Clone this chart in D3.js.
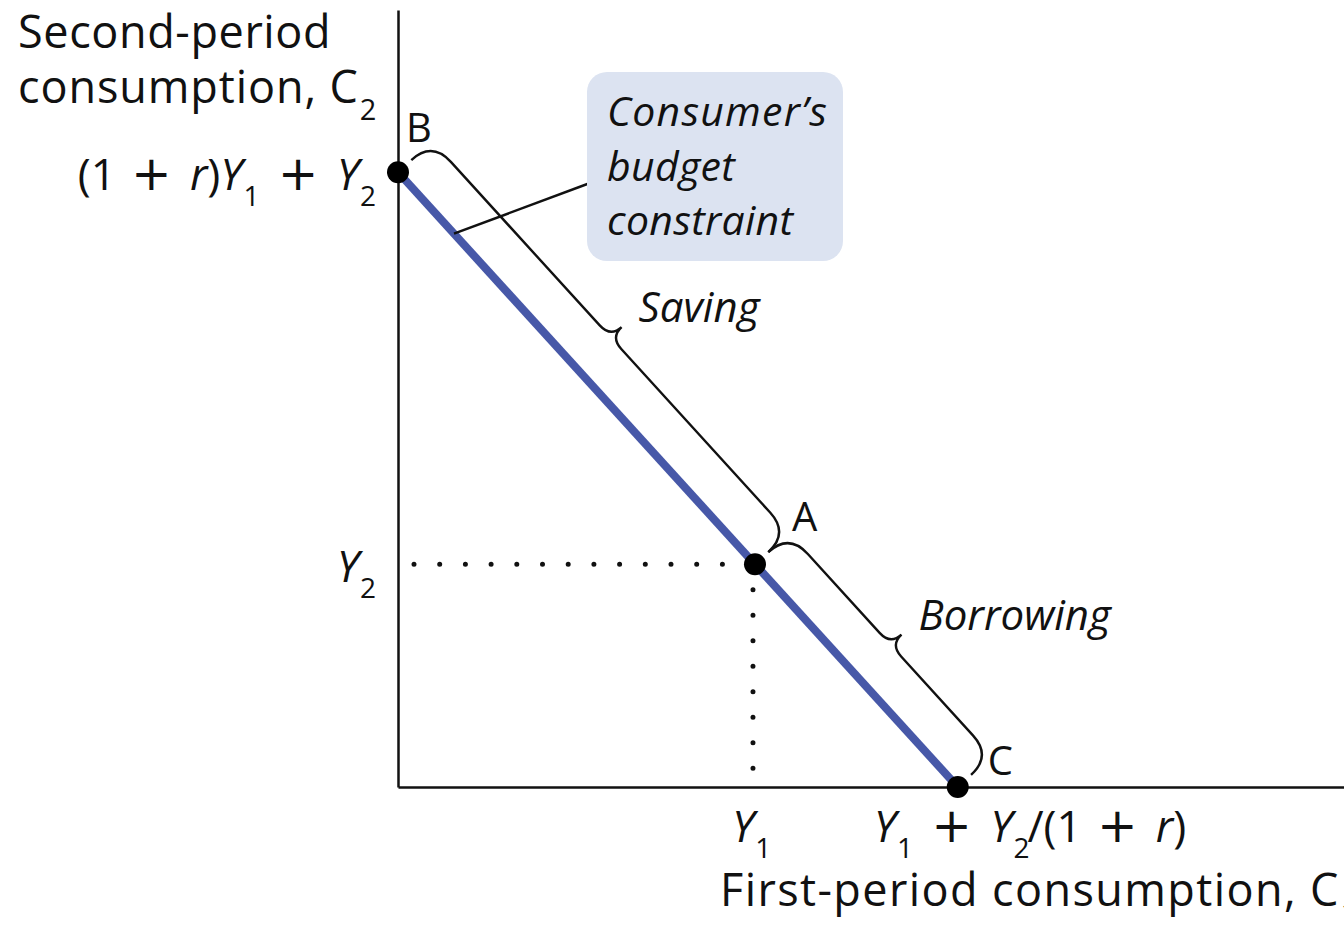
<!DOCTYPE html>
<html>
<head>
<meta charset="utf-8">
<script src="https://cdn.jsdelivr.net/npm/d3@7"></script>
<style>
  body { margin: 0; background: #fff; }
  svg text { font-family: "Open Sans", sans-serif; fill: #111; }
</style>
</head>
<body>
<div id="chart"></div>
<script>

// points on the budget constraint (C1, C2)
var pointLabels = ["B", "A", "C"];
var c1Values = [0, 100, 156.8];
var c2Values = [172.5, 62.5, 0];

// brace annotations: from point i to point i+1
var braceLabels = ["Saving", "Borrowing"];

var calloutLines = ["Consumer\u2019s", "budget", "constraint"];

// tick labels, as [text, kind] pieces: n = normal, i = italic, s = subscript, p = plus sign
var yTickValues = [172.5, 62.5];
var yTickLabels = [
  [["(1 ", "n"], ["+", "p", 4], [" ", "n", 7], ["r", "i"], [")", "n"], ["Y", "i"], ["1", "s"],
   [" ", "n", 3], ["+", "p", 4], [" ", "n", 7], ["Y", "i"], ["2", "s"]],
  [["Y", "i"], ["2", "s"]]
];
var xTickValues = [100, 156.8];
var xTickLabels = [
  [["Y", "i"], ["1", "s"]],
  [["Y", "i"], ["1", "s"], [" ", "n", 3], ["+", "p", 4], [" ", "n", 7], ["Y", "i"], ["2", "s"],
   ["/", "n", -2], ["(1 ", "n"], ["+", "p", 4], [" ", "n", 7], ["r", "i"], [")", "n"]]
];

var yTitle = [["Second-period", "n"]];
var yTitle2 = [["consumption, C", "n"], ["2", "s"]];
var xTitle = [["First-period consumption, C", "n"], ["1", "s"]];

var width = 1344, height = 929;

var x = d3.scaleLinear().domain([0, 265]).range([398, 1344]);
var y = d3.scaleLinear().domain([0, 218]).range([787, 10]);

var svg = d3.select("#chart").append("svg")
    .attr("width", width)
    .attr("height", height);

// writes a label made of normal / italic / subscript pieces
function richText(g, pieces, size, anchor) {
  var t = g.append("text")
      .style("font-size", size + "px")
      .attr("text-anchor", anchor || "start");
  var shifted = false, sh = Math.round(size * 0.37);
  pieces.forEach(function(p) {
    var s = t.append("tspan").text(p[0]);
    if (p[1] === "i") s.style("font-style", "italic");
    if (p[1] === "p") s.style("font-family", "'DejaVu Sans', sans-serif").style("font-size", Math.round(size * 1.1) + "px");
    if (p[1] === "s") {
      s.style("font-size", Math.round(size * 0.64) + "px").attr("dy", shifted ? 0 : sh).attr("dx", 1);
      shifted = true;
    } else if (shifted) {
      s.attr("dy", -sh);
      shifted = false;
    }
    if (p[2]) s.attr("dx", p[2]);
  });
  return t;
}

// axes (lines only)
svg.append("g")
    .attr("class", "axis")
    .attr("transform", "translate(0," + y(0) + ")")
    .call(d3.axisBottom(x).tickValues([]).tickSizeOuter(0));
svg.append("g")
    .attr("class", "axis")
    .attr("transform", "translate(" + x(0) + ",0)")
    .call(d3.axisLeft(y).tickValues([]).tickSizeOuter(0));
svg.selectAll(".axis path").attr("stroke", "#111").attr("stroke-width", 2.5);

// dotted guides to point A
svg.append("line")
    .attr("x1", x(0) + 16).attr("x2", x(c1Values[1]))
    .attr("y1", y(c2Values[1])).attr("y2", y(c2Values[1]))
    .attr("stroke", "#111").attr("stroke-width", 5)
    .attr("stroke-linecap", "round").attr("stroke-dasharray", "0 25.7");
svg.append("line")
    .attr("x1", x(c1Values[1]) - 2).attr("x2", x(c1Values[1]) - 2)
    .attr("y1", y(c2Values[1])).attr("y2", y(0) - 14)
    .attr("stroke", "#111").attr("stroke-width", 5)
    .attr("stroke-linecap", "round").attr("stroke-dasharray", "0 25.5");

// budget line
var pts = c1Values.map(function(d, i) { return [x(d), y(c2Values[i])]; });
svg.append("path")
    .attr("d", d3.line()([pts[0], pts[2]]))
    .attr("fill", "none")
    .attr("stroke", "#4758a8")
    .attr("stroke-width", 8);

// braces
function bracePath(len, d0, d1, tip) {
  var r = 28, h = len / 2, k = 16;
  return "M0," + (-d0) +
    "Q0," + (-d1) + " " + r + "," + (-d1) +
    "L" + (h - k) + "," + (-d1) +
    "Q" + h + "," + (-d1) + " " + h + "," + (-tip) +
    "Q" + h + "," + (-d1) + " " + (h + k) + "," + (-d1) +
    "L" + (len - r) + "," + (-d1) +
    "Q" + len + "," + (-d1) + " " + len + "," + (-d0);
}

braceLabels.forEach(function(lab, i) {
  var p1 = pts[i], p2 = pts[i + 1];
  var dx = p2[0] - p1[0], dy = p2[1] - p1[1];
  var len = Math.sqrt(dx * dx + dy * dy);
  var ang = Math.atan2(dy, dx);
  var tip = 61;
  svg.append("path")
      .attr("d", bracePath(len, 18, 46, tip))
      .attr("transform", "translate(" + p1[0] + "," + p1[1] + ") rotate(" + (ang * 180 / Math.PI) + ")")
      .attr("fill", "none")
      .attr("stroke", "#111")
      .attr("stroke-width", 2.4);
  // tip position in page coords
  var ux = dx / len, uy = dy / len;
  var tx = p1[0] + ux * len / 2 + uy * tip;
  var ty = p1[1] + uy * len / 2 - ux * tip;
  svg.append("text")
      .attr("x", tx + 17)
      .attr("y", ty - 5)
      .style("font-size", "42px")
      .style("font-style", "italic")
      .text(lab);
});

// callout
var anchor = d3.interpolateArray(pts[0], pts[2])(0.1);
svg.append("line")
    .attr("x1", anchor[0]).attr("y1", anchor[1])
    .attr("x2", 590).attr("y2", 183)
    .attr("stroke", "#111").attr("stroke-width", 2.5);
svg.append("rect")
    .attr("x", 587).attr("y", 72)
    .attr("width", 256).attr("height", 189)
    .attr("rx", 20)
    .attr("fill", "#dce3f1");
svg.selectAll(".callout")
    .data(calloutLines)
  .enter().append("text")
    .attr("class", "callout")
    .attr("x", 607)
    .attr("y", function(d, i) { return 126 + i * 54.5; })
    .style("font-size", "41px")
    .style("font-style", "italic")
    .style("letter-spacing", function(d, i) { return i === 0 ? "1.2px" : "0.3px"; })
    .text(function(d) { return d; });

// points
svg.selectAll(".pt")
    .data(pts)
  .enter().append("circle")
    .attr("class", "pt")
    .attr("cx", function(d) { return d[0]; })
    .attr("cy", function(d) { return d[1]; })
    .attr("r", 11)
    .attr("fill", "#000");

var labelOffsets = [[8, -30], [37, -33], [30, -12]];
svg.selectAll(".plab")
    .data(pointLabels)
  .enter().append("text")
    .attr("class", "plab")
    .attr("x", function(d, i) { return pts[i][0] + labelOffsets[i][0]; })
    .attr("y", function(d, i) { return pts[i][1] + labelOffsets[i][1]; })
    .style("font-size", "40px")
    .text(function(d) { return d; });

// tick labels
yTickValues.forEach(function(v, i) {
  richText(svg, yTickLabels[i], 44, "end")
      .attr("x", x(0) - 22)
      .attr("y", y(v) + 18);
});
var xTickShift = [-23, -84];
xTickValues.forEach(function(v, i) {
  richText(svg, xTickLabels[i], 44, "start")
      .attr("x", x(v) + xTickShift[i])
      .attr("y", y(0) + 55);
});

// axis titles
richText(svg, yTitle, 45).attr("x", 18).attr("y", 48).style("letter-spacing", "0.6px");
richText(svg, yTitle2, 45).attr("x", 18).attr("y", 103).style("letter-spacing", "0.9px");
richText(svg, xTitle, 45).attr("x", 720).attr("y", 906).style("letter-spacing", "1.4px");

</script>
</body>
</html>
